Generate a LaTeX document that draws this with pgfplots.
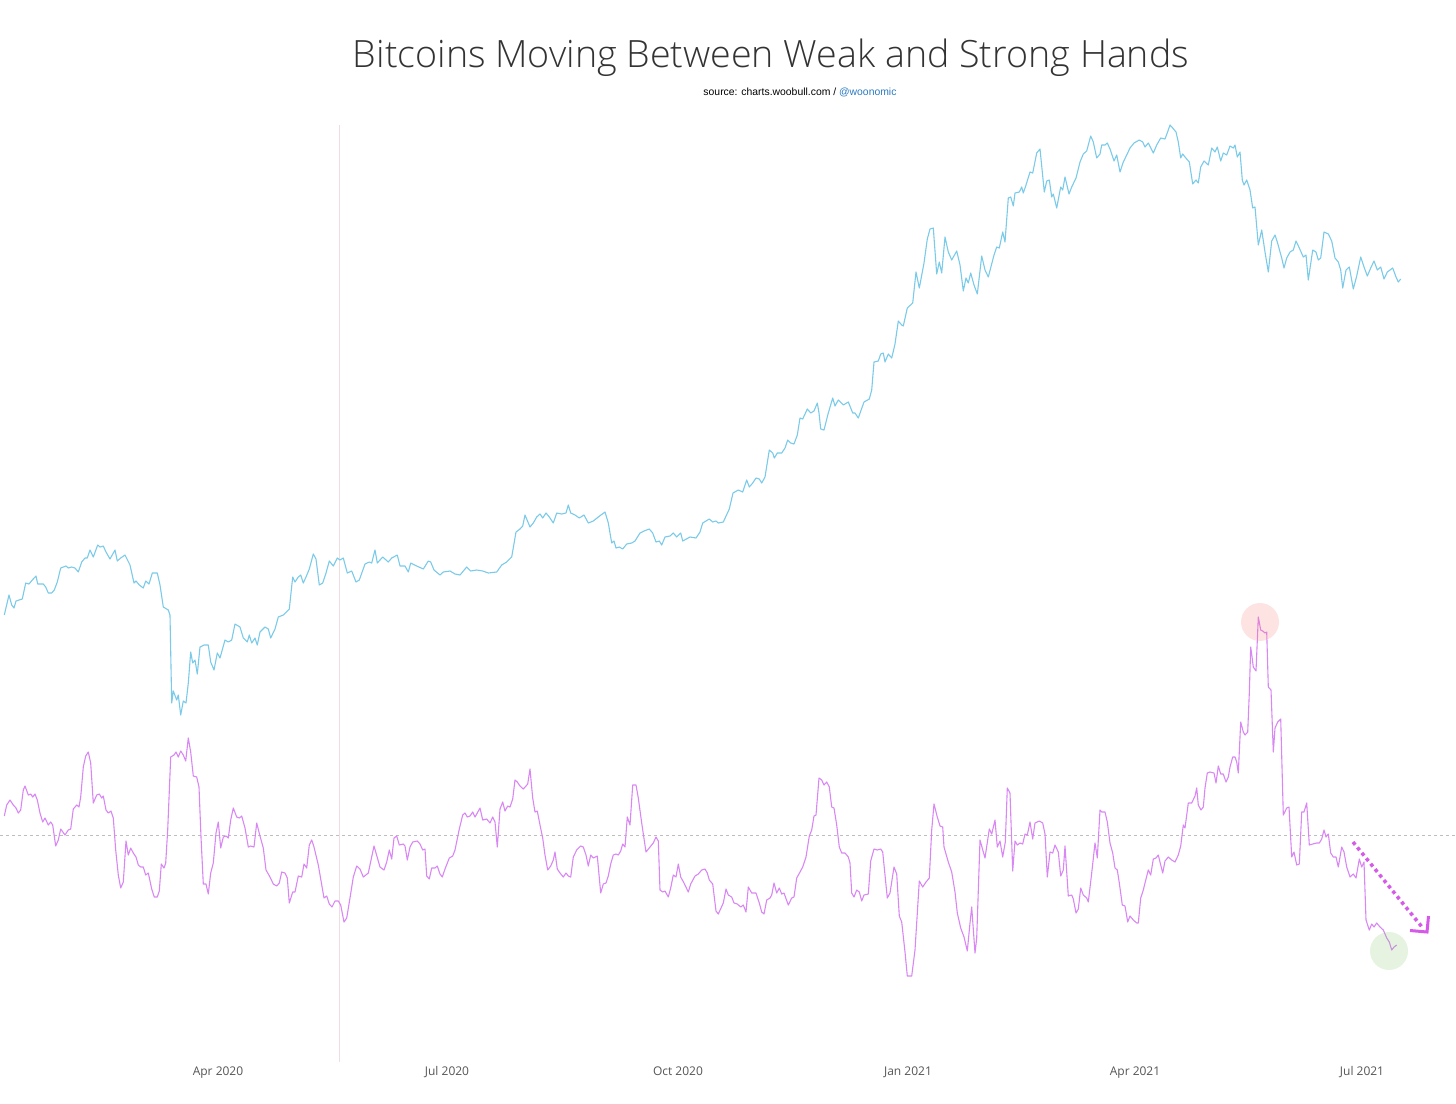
\documentclass[border=0pt]{standalone}
\usepackage{fontspec}
\setmainfont{Open Sans}
\newfontfamily\subfont{Liberation Sans}
\newfontfamily\titlefont{Open Sans Light}
\usepackage{pgfplots}
\pgfplotsset{compat=1.18}
\definecolor{cblue}{RGB}{122,202,232}
\definecolor{cpurple}{RGB}{216,135,243}
\definecolor{titlegray}{RGB}{51,51,51}
\definecolor{tickgray}{RGB}{85,85,85}
\definecolor{linkblue}{RGB}{42,122,192}
\definecolor{arrowc}{RGB}{214,90,232}
\definecolor{vlinec}{RGB}{238,222,222}
\definecolor{hlinec}{RGB}{190,190,190}
\begin{document}
\begin{tikzpicture}
\begin{axis}[
  scale only axis, width=1456pt, height=1062pt,
  xmin=0, xmax=1456, ymin=0, ymax=1062, y dir=reverse,
  axis line style={draw=none}, ytick=\empty,
  xtick={218,447,678,908,1135,1362},
  xticklabels={Apr 2020,Jul 2020,Oct 2020,Jan 2021,Apr 2021,Jul 2021},
  major tick length=0pt,
  xticklabel style={font=\fontsize{12}{14}\selectfont, text=tickgray, anchor=base, yshift=-13pt},
  clip=false,
]
\draw[vlinec, line width=0.8pt] (axis cs:339,125) -- (axis cs:339,1062);
\draw[hlinec, line width=0.8pt, dash pattern=on 3pt off 3pt] (axis cs:0,835) -- (axis cs:1456,835);
\addplot[cblue, line width=1.1pt, line join=round] coordinates {
(4.3,615)(9,595)(11.7,605)(14,608)(16,601)(19,600)(22.3,599)(25.7,583)(29,584)(32.3,580)(36,576)(37.7,584)(43.3,584)(45.7,587)(48.3,593)(51.7,593)(54.3,590)(57.3,582)(60.7,568)(66,566)(68.3,568)(71.7,567)(75,568)(78.3,572)(81.7,562)(85,558)(87.3,558)(90,550)(93.3,557)(97.7,545)(100,547)(103.3,546)(106,552)(110,559)(115,550)(117.3,561)(120.7,558)(125,555)(130,565)(134,583)(136,581)(139.3,585)(143.3,588)(145.7,581)(149,584)(152.3,573)(157.3,573)(160,585)(163.3,607)(168.3,610)(170,615)(171.7,703)(173.3,691)(176.7,700)(178.3,695)(180.7,715)(183.3,701)(186,703)(188.3,683)(190.7,652)(192.7,663)(195,660)(197.3,674)(200,647)(204,645)(208.3,645)(210.7,662)(214,670)(217.3,653)(220,658)(225,640)(228.3,642)(231.7,640)(235,624)(240,627)(243.3,638)(247.3,642)(249.3,635)(251.7,643)(255,638)(257.3,645)(260,632)(265,627)(268.3,629)(270.7,638)(275,629)(278.3,617)(283.3,615)(289.3,609)(292.7,577)(295,582)(298.3,577)(300.7,575)(303.3,583)(306,577)(309.3,569)(313.3,554)(316,559)(319.3,585)(322.7,583)(326,573)(329.3,561)(333.3,566)(337.3,558)(340,560)(343.3,558)(347.3,573)(351.7,571)(356,582)(359.3,580)
(365,564)(369.3,562)(371.7,563)(375,550)(377.3,563)(382.7,557)(388.3,562)(391.7,558)(397.3,555)(400,566)(405,566)(408.3,572)(410.7,563)(416.7,566)(423.3,569)(428.3,561)(430.7,562)(434,570)(440,575)(443.3,572)(450,571)(455,574)(460,575)(466.7,567)(470.7,571)(476.7,570)(482.7,571)(488.3,573)(496.7,572)(501.7,565)(506.7,562)(511.7,557)(516,532)(520,529)(522.7,526)(525,515)(530,527)(533.3,523)(536.7,517)(540,514)(542.7,518)(546,513)(549.3,517)(553.3,523)(556.7,513)(561.7,514)(566,513)(568.3,505)(570.7,513)(575,515)(579.3,518)(584,515)(588.3,523)(593.3,521)(598.3,517)(605,512)(608.3,523)(611.7,543)(614,541)(616,548)(619.3,547)(622.7,549)(626.7,544)(631.7,543)(635,541)(640,533)(644,531)(649.3,529)(652.7,533)(656,542)(659.3,541)(661.7,545)(665,537)(670,536)(673.3,533)(676.7,537)(680.7,533)(682.7,541)(690,537)(696,538)(700,532)(702.7,523)(709.3,519)(712.7,522)(716,521)(718.3,523)
(723.3,522)(729.3,509)(733,493)(738.3,490)(742.7,492)(746.7,480)(749.3,487)(752.7,483)(756,478)(759.3,479)(761.7,483)(765,477)(769.3,450)(772.7,453)(774.3,458)(777.3,453)(781.7,453)(785,448)(787.7,440)(790.7,443)(794,444)(797.3,435)(800,418)(802.7,419)(807.3,409)(810.7,413)(814,411)(817.3,403)(819,413)(820.7,429)(824,430)(828.3,413)(832.7,398)(835,406)(838.3,400)(843.3,405)(848.3,402)(852.7,413)(855,413)(858.3,418)(864,402)(869.3,399)(871.7,390)(874,362)(878.3,361)(880.7,354)(883.3,353)(885,362)(888.3,354)(891.7,358)(895,344)(898.3,321)(901.7,325)(903.3,326)(907.3,308)(912.7,303)(916,272)(919.3,288)(924,263)(927.3,239)(930,229)(933.3,228)(936.7,274)(939.3,262)(941.7,273)(945,237)(948.3,252)(951.7,260)(956.7,251)(960,265)(963.3,291)(966,278)(968.3,283)(970.7,273)(974,285)(977.3,294)(981.7,256)(985,270)(988.3,277)
(994,255)(996.7,247)(999.3,248)(1002.7,232)(1005,242)(1008.3,198)(1010.7,197)(1013.3,206)(1015,193)(1019.3,192)(1021.7,187)(1023.3,193)(1026,185)(1030,172)(1032.7,173)(1036.7,153)(1040,149)(1044.3,192)(1046.7,181)(1049.3,180)(1051.7,197)(1053.3,194)(1056.7,208)(1060.7,187)(1062.7,190)(1065,177)(1069,194)(1071.7,187)(1076,178)(1080,162)(1083.3,154)(1086.7,151)(1090.7,136)(1093.3,142)(1096.7,158)(1100,154)(1101.7,145)(1105,145)(1107.3,143)(1110,149)(1114,161)(1116.7,155)(1120,172)(1123.3,162)(1126.7,155)(1130,148)(1134,143)(1139.3,140)(1142.7,142)(1145,147)(1148.3,143)(1153.3,153)(1156.7,145)(1160.7,138)(1165,139)(1168.3,130)(1170,125)(1172.7,128)(1176,132)(1178.3,142)(1180.7,158)(1182.7,154)(1185,157)(1189.3,162)(1192.7,184)(1196,180)(1198.3,183)(1200.7,167)(1204,161)(1208.3,165)(1211.7,148)(1215,152)(1217.3,147)(1220.7,161)(1223.3,153)(1226.7,155)(1230,146)(1233.3,148)(1235,145)(1237.3,157)(1240,152)(1242.3,180)(1244,185)(1246.7,180)(1250,190)(1252.7,208)(1255,207)(1258.3,245)(1261.7,230)(1265,252)(1268.3,272)(1271.7,241)(1275,235)(1277.3,242)(1281.7,258)(1284,268)(1286.7,258)(1290,252)(1293.3,250)(1296,241)(1299.3,248)(1303.3,257)(1306,255)(1308.3,280)(1312.7,250)(1316,252)(1318.3,260)(1320.7,258)(1324,232)(1328.3,234)(1331.7,241)(1335,258)(1338.3,262)(1340.7,270)(1342.7,288)(1346,270)(1349.3,267)(1353.3,289)(1356.7,276)(1360.7,257)(1364,267)(1367.3,276)(1370.7,268)(1374,261)(1377.3,270)(1380.7,267)(1384,279)(1387.3,272)(1392.7,268)(1396,277)(1398.3,282)(1400.7,279)
};
\addplot[cpurple, line width=1.1pt, line join=round] coordinates {
(4.3,816)(6.7,805)(10,800)(13.3,805)(16,808)(18.3,813)(20.7,810)(23.3,790)(25,786)(28.3,795)(30.7,794)(32.7,797)(35,794)(37.3,800)(40,813)(42.7,822)(45,818)(48.3,825)(50.7,822)(52.7,825)(55.7,846)(58.3,840)(60.7,829)(65,835)(68.3,830)(70.7,829)(73.3,809)(76.7,805)(79,807)(80.7,797)(83.3,767)(85.7,756)(88.3,752)(90.7,763)(93.3,803)(96.7,795)(99.3,794)(101.7,798)(103.3,796)(106,810)(108.3,813)(111,811)(113.3,818)(115.7,850)(118.3,875)(120.7,888)(123.3,882)(126,841)(128.3,855)(130.7,848)(133.3,853)(136,857)(138.3,865)(140.7,867)(143.3,867)(145.7,875)(148.3,873)(151.7,889)(154.3,897)(157.3,897)(159.3,891)(161.3,864)(164,868)(165.7,863)(167.7,830)(170.7,757)(174,755)(176,752)(178.3,757)(180.7,751)(183.3,755)(185.7,761)(188.3,738)(190.7,752)(193.3,776)(196.7,777)(199,787)(201,837)(203.3,884)(206,884)(208.3,894)(210.7,873)(213.3,863)(216,833)(218.3,822)(220.7,848)(223.3,837)(226,836)(228.3,838)(230.7,820)(233.3,808)(236.7,817)(239.3,818)(241.7,816)(245,828)(248.3,847)(250.7,846)(254,847)(256.7,823)(260,836)(263.3,848)(266,870)(270,877)(273.3,884)(276.7,886)(279.3,883)(281.7,872)(285,873)(287.3,878)(289.3,903)(292.7,892)(295,892)(298.3,876)(301.7,877)(304,864)(306.7,868)(309.3,845)(311.7,840)(314,847)(318.3,865)(324,898)(326.7,896)(329.3,904)(332,907)(335,901)(338.3,901)(340.7,905)(344,922)(346.7,918)(350,898)(353.3,877)(356.7,866)
(360,869)(363.3,877)(368.3,873)(374,846)(380,867)(384,870)(386.7,862)(389.3,850)(391.7,859)(394,838)(396.7,836)(399.3,845)(403.3,844)(405,846)(407.3,860)(410,847)(412.7,842)(417.3,841)(420,844)(422.7,850)(425,849)(426.7,876)(429.3,879)(431.7,868)(435,868)(437.3,866)(440,874)(442.3,877)(445,869)(449.3,858)(452.7,856)(455,850)(459.3,829)(462.7,815)(465,813)(467.3,817)(470,816)(472.7,812)(475,817)(477.3,813)(480,808)(482.7,820)(486.7,819)(490,823)(492.7,817)(495,822)(497.3,847)(500,809)(502.7,802)(505,811)(507.7,806)(510,807)(512.7,799)(515,780)(517.3,782)(520,786)(523.3,789)(526,786)(527.7,784)(530,769)(532.7,798)(535,812)(537.3,811)(540,825)(542.7,838)(545,855)(547.7,870)(550.7,866)(553.3,860)(555,852)(557.3,869)(560,873)(563.3,877)(566,873)(568.3,876)(570.7,877)(573.3,857)(576.7,850)(580.7,846)(583.3,847)(586,855)(588.3,866)(590.7,855)(593.3,858)(597.3,856)(600.7,893)(603.3,884)(606,883)(608.3,876)(610.7,864)(613.3,855)(616,854)(618.3,855)(620.7,851)(622.7,844)(625,847)(627.3,817)(630,825)(632.7,785)(636,785)(638.3,798)(641.7,823)(646,852)(650,847)(653.3,843)(656,837)(658.3,841)(660,890)(662.7,892)(665,891)(668.3,897)(670.7,888)(673.3,875)(676,877)(678.3,864)(680.7,877)(684,883)(688.3,892)(690.7,884)(695,876)(698.3,874)(701.7,870)(705,869)(707.3,873)(709.3,880)(712.7,884)(716,911)(718.3,914)
(721,908)(723.3,903)(726,889)(728.3,895)(731.7,897)(734,903)(737.3,904)(740.7,907)(743.3,905)(746,912)(748.3,887)(751.7,893)(756,893)(759.3,903)(761.7,912)(764,914)(766.7,900)(770,898)(771.7,895)(774,883)(776.7,893)(779.3,888)(781.7,894)(784,893)(788.3,905)(791.7,898)(794,897)(796.7,878)(800,872)(802.7,867)(806,857)(809.3,836)(811.7,830)(814,816)(816,815)(819,778)(821.7,780)(824,785)(826.7,782)(829.3,787)(831.7,807)(834,808)(836.7,825)(839.3,847)(841.7,853)(845,853)(848.3,857)(850,863)(851.7,893)(854,897)(856.7,890)(859.3,892)(861.7,901)(864,895)(868.3,894)(870.7,861)(874,849)(877.3,850)(880.7,849)(882.7,852)(885,875)(887.3,898)(890,893)(894,867)(896.7,874)(899.3,916)(901.7,922)(905,952)(907.3,976)(911.7,976)(915,950)(919.3,881)(922.7,887)(926,882)(929.3,878)(931.7,830)(934,804)(937.3,817)(940,826)(942.7,827)(944,847)(948.3,862)(951.7,872)(955,892)(957.3,913)(960.7,928)(964,937)(967.3,951)(970,923)(971.7,907)(975,953)(976.7,938)(980,840)(985,858)(989.3,829)(991.7,834)(995,820)(997.3,847)(1000,841)(1002.7,857)(1005.3,842)(1007.3,788)(1010,793)(1012.7,871)(1015,841)(1017.3,845)(1020,843)(1022.7,844)(1025,834)(1027.3,835)(1030,822)(1032.7,839)(1035,823)(1039.3,821)(1042.7,823)(1045,834)(1047.3,877)(1050,852)(1052.7,853)(1055,845)(1058.3,852)(1060.7,876)(1063.3,870)(1065,846)(1068.3,896)(1071.7,895)(1073.3,899)(1076,913)(1078.3,909)(1080.7,888)(1083.3,895)(1086.7,898)(1088.3,902)
(1091.7,873)(1095,843)(1097.3,858)(1100,810)(1101.7,812)(1105,812)(1107.3,822)(1110,843)(1112.7,853)(1115,868)(1117.3,870)(1119.3,883)(1122.3,905)(1125,906)(1127.7,922)(1130,916)(1133.3,920)(1136.7,923)(1138.3,923)(1140.7,898)(1143.3,890)(1146,879)(1148.3,870)(1150.7,875)(1153.3,859)(1156,858)(1158.3,855)(1160.7,865)(1162.7,873)(1165,861)(1168.3,857)(1171.7,860)(1175,862)(1178.3,855)(1180.7,846)(1183.3,825)(1185,828)(1188.3,803)(1191.7,803)(1195,796)(1196.7,788)(1198.3,805)(1201,810)(1203.3,807)(1205,788)(1207.3,773)(1210,772)(1214,773)(1216,783)(1218.3,766)(1220.7,774)(1223.3,774)(1226,782)(1228.3,777)(1230,767)(1232.7,757)(1235,757)(1236.7,762)(1238.3,773)(1240.7,722)(1243.3,732)(1245,735)(1247.7,732)(1249.3,693)(1250.7,647)(1253.3,667)(1256,671)(1258.3,617)(1260.7,630)(1262.7,631)(1265,633)(1266.7,632)(1268.3,687)(1271,690)(1273.3,752)(1275,728)(1277.7,722)(1280.7,719)(1283.3,815)(1286.7,808)(1289,807)(1291.7,857)(1294,852)(1296.7,865)(1299.3,864)(1301.7,812)(1304,812)(1306.7,803)(1309.3,845)(1312.7,844)(1316.7,843)(1319.3,843)(1321.7,839)(1324,830)(1326,837)(1328.3,834)(1330.7,853)(1333.3,857)(1336,857)(1338.3,867)(1341.7,847)(1344,852)(1346.7,867)(1350,877)(1353.3,874)(1356,878)(1359.3,859)(1361.7,867)(1364,862)(1366,920)(1369.3,930)(1371.7,924)(1374,927)(1376.7,923)(1380,927)(1383.3,930)(1386.7,938)(1389.3,942)(1391.7,950)(1394,947)(1396.7,945)
};
\fill[fill={rgb,255:red,250;green,128;blue,128}, fill opacity=0.22] (axis cs:1260,622) circle[radius=19pt];
\fill[fill={rgb,255:red,140;green,200;blue,120}, fill opacity=0.22] (axis cs:1389,951) circle[radius=19pt];
\draw[arrowc, line width=3.5pt, dash pattern=on 3.5pt off 3.5pt] (axis cs:1353,842) -- (axis cs:1422,927);
\draw[arrowc, line width=3pt, line join=miter, line cap=butt] (axis cs:1410,930.5) -- (axis cs:1427,932) -- (axis cs:1428.5,916);
\node[font=\titlefont\fontsize{37.6}{42}\selectfont, text=titlegray, anchor=base] at (axis cs:771,67) {Bitcoins Moving Between Weak and Strong Hands};
\node[font=\subfont\fontsize{10.4}{12}\selectfont, text=black, anchor=base] at (axis cs:800,95) {source: charts.woobull.com / \textcolor{linkblue}{@woonomic}};
\end{axis}
\pgfresetboundingbox
\path[use as bounding box] (0,-41pt) rectangle (1456pt,1062pt);
\end{tikzpicture}
\end{document}
